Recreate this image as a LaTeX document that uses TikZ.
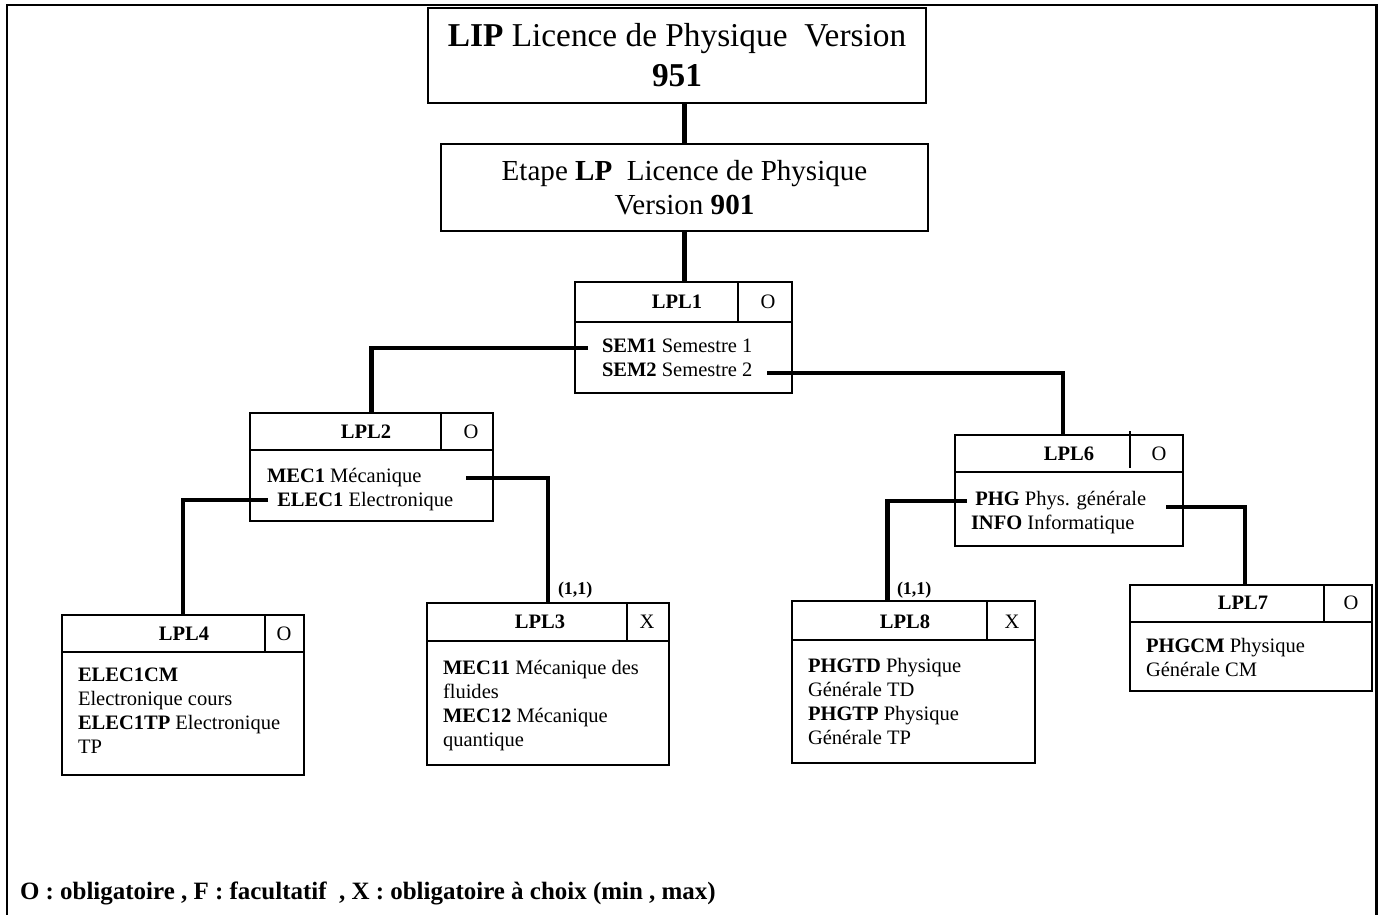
\documentclass[tikz,border=0pt]{standalone}
\usepackage{fontspec}
\setmainfont{Liberation Serif}
\newcommand{\pxu}{0.585pt}

\begin{document}
\begin{tikzpicture}[x=\pxu, y=-\pxu]
    \tikzstyle{every node} = [inner sep=0pt, outer sep=0pt]
    \tikzstyle{big} = [draw, line width=1.5pt, font=\fontsize{19.5}{23.4}\selectfont, align=center]
    \tikzstyle{mid} = [draw, line width=1.5pt, font=\fontsize{17}{20.3}\selectfont, align=center]
    \tikzstyle{module} = [draw, line width=1.2pt, anchor=north west]
    \tikzstyle{head} = [font=\fontsize{12}{14}\selectfont\bfseries]
    \tikzstyle{flag} = [font=\fontsize{12}{14}\selectfont]
    \tikzstyle{body} = [font=\fontsize{12}{14}\selectfont, align=left, anchor=north west]
    \tikzstyle{card} = [font=\fontsize{10.5}{12}\selectfont\bfseries, anchor=west]
    \tikzstyle{link} = [line width=2.9pt]
    \tikzstyle{rule} = [line width=1pt]
    \useasboundingbox (0,0) rectangle (1383,915);
    \draw[line width=1.75pt] (7,915) -- (7,5) -- (1376,5) -- (1376,915);

    \node[big, minimum width=498*\pxu, minimum height=95*\pxu] (lip) at (677,55.5)
        {\textbf{LIP} Licence de Physique\ \ Version\\\textbf{951}};
    \node[mid, minimum width=487*\pxu, minimum height=87*\pxu] (lp) at (684.5,187.5)
        {Etape \textbf{LP}\ \ Licence de Physique\\Version \textbf{901}};

    \node[module, minimum width=217*\pxu, minimum height=111*\pxu] (lpl1) at (575,282) {};
    \node[module, minimum width=243*\pxu, minimum height=108*\pxu] (lpl2) at (250,413) {};
    \node[module, minimum width=242*\pxu, minimum height=160*\pxu] (lpl4) at (62,615) {};
    \node[module, minimum width=242*\pxu, minimum height=162*\pxu] (lpl3) at (427,603) {};
    \node[module, minimum width=228*\pxu, minimum height=111*\pxu] (lpl6) at (955,435) {};
    \node[module, minimum width=243*\pxu, minimum height=162*\pxu] (lpl8) at (792,601) {};
    \node[module, minimum width=242*\pxu, minimum height=106*\pxu] (lpl7) at (1130,585) {};

    \draw[rule] (575,322) -- (792,322) (738,282) -- (738,322);
    \draw[rule] (250,450) -- (493,450) (441,413) -- (441,450);
    \draw[rule] (62,652) -- (304,652) (265,615) -- (265,652);
    \draw[rule] (427,641) -- (669,641) (627,603) -- (627,641);
    \draw[rule] (955,472) -- (1183,472) (1130,431) -- (1130,468);
    \draw[rule] (792,640) -- (1035,640) (987,601) -- (987,640);
    \draw[rule] (1130,622) -- (1372,622) (1324,585) -- (1324,622);

    \node[head] (lpl1t) at (677,302) {LPL1};
    \node[flag] (lpl1f) at (768,302) {O};
    \node[head] (lpl2t) at (366,432) {LPL2};
    \node[flag] (lpl2f) at (471,432) {O};
    \node[head] (lpl4t) at (184,634) {LPL4};
    \node[flag] (lpl4f) at (284,634) {O};
    \node[head] (lpl3t) at (540,622) {LPL3};
    \node[flag] (lpl3f) at (647,622) {X};
    \node[head] (lpl6t) at (1069,454) {LPL6};
    \node[flag] (lpl6f) at (1159,454) {O};
    \node[head] (lpl8t) at (905,622) {LPL8};
    \node[flag] (lpl8f) at (1012,622) {X};
    \node[head] (lpl7t) at (1243,603) {LPL7};
    \node[flag] (lpl7f) at (1351,603) {O};

    \node[body] (lpl1b) at (602,339) {\textbf{SEM1} Semestre 1\\\textbf{SEM2} Semestre 2};
    \node[body] (lpl2b) at (267,468) {\textbf{MEC1} Mécanique\\\hspace{6pt}\textbf{ELEC1} Electronique};
    \node[body] (lpl4b) at (78,668) {\textbf{ELEC1CM}\\Electronique cours\\\textbf{ELEC1TP} Electronique\\TP};
    \node[body] (lpl3b) at (443,660) {\textbf{MEC11} Mécanique des\\fluides\\\textbf{MEC12} Mécanique\\quantique};
    \node[body] (lpl6b) at (971,491) {\hspace{2.5pt}\textbf{PHG} Phys. générale\\\textbf{INFO} Informatique};
    \node[body] (lpl8b) at (808,658) {\textbf{PHGTD} Physique\\Générale TD\\\textbf{PHGTP} Physique\\Générale TP};
    \node[body] (lpl7b) at (1146,638) {\textbf{PHGCM} Physique\\Générale CM};

    \node[card] (card3) at (558,590) {(1,1)};
    \node[card] (card8) at (897,590) {(1,1)};

    \coordinate (sem1) at (588,348);
    \coordinate (sem2) at (767,373);
    \coordinate (mec1) at (466,478);
    \coordinate (elec1) at (268,500);
    \coordinate (phg) at (967,501);
    \coordinate (info) at (1166,507);

    \draw[link] (lip.south -| lp.north) -- (lp.north);
    \draw[link] (lp.south) -- (lp.south |- lpl1.north);
    \draw[link] (sem1) -| (lpl2.north);
    \draw[link] (sem2) -| ([xshift=-6*\pxu]lpl6.north);
    \draw[link] (mec1) -| (lpl3.north);
    \draw[link] (elec1) -| (lpl4.north);
    \draw[link] (phg) -| ([xshift=-26*\pxu]lpl8.north);
    \draw[link] (info) -| ([xshift=-6*\pxu]lpl7.north);

    \node[anchor=west, font=\fontsize{14.6}{17}\selectfont\bfseries] (legend) at (20,893)
        {O : obligatoire , F : facultatif\ \ , X : obligatoire à choix (min , max)};
\end{tikzpicture}
\end{document}
